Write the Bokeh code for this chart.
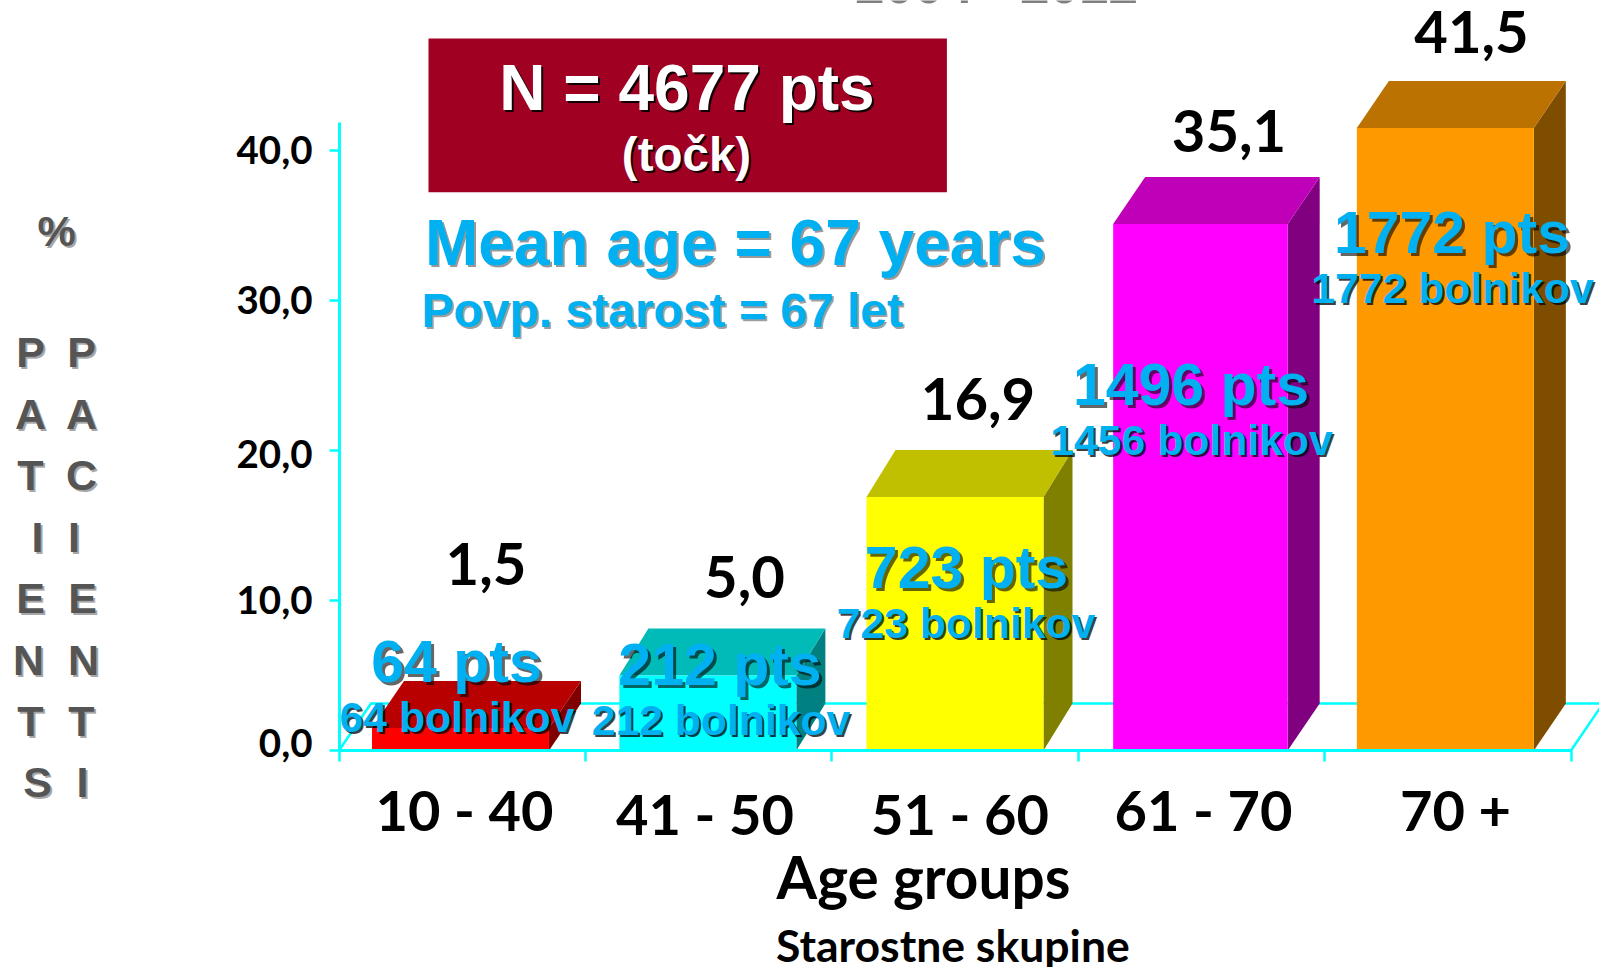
from bokeh.embed import file_html
from bokeh.resources import INLINE
from bokeh.plotting import figure
from bokeh.models import Label, FixedTicker, Range1d

categories = ["10 - 40", "41 - 50", "51 - 60", "61 - 70", "70 +"]
percent = [1.5, 5.0, 16.9, 35.1, 41.5]
pts_labels = ["64 pts", "212 pts", "723 pts", "1496 pts", "1772 pts"]
bolnikov_labels = ["64 bolnikov", "212 bolnikov", "723 bolnikov", "1456 bolnikov", "1772 bolnikov"]
y_ticks = [0, 10, 20, 30, 40]
front_colors = ["#FF0000", "#00FFFF", "#FFFF00", "#FF00FF", "#FF9900"]
top_colors = ["#B80000", "#00BBB8", "#C0C000", "#C000B8", "#BC7200"]
side_colors = ["#800000", "#008080", "#808000", "#800080", "#7F4D00"]
left_col = list("PATIENTS")
right_col = list("PACIENTI")

SANS = "Liberation Sans"
HUM = "Lato"
CYAN = "#00FFFF"
BLUE = "#00B0F0"

W, H = 1599, 967
X0, XS, Y0, YS = 338.5, 246.4, 750.0, 15.0
DX, DY = 32 / XS, 47 / YS

p = figure(width=W, height=H, output_backend="svg", toolbar_location=None,
           x_range=Range1d(-X0 / XS, (W - X0) / XS), y_range=Range1d((Y0 - H) / YS, Y0 / YS),
           min_border_left=0, min_border_right=0, min_border_top=0, min_border_bottom=0,
           background_fill_color="white", border_fill_color="white")
p.outline_line_color = None
p.grid.visible = False

yax = p.yaxis[0]
yax.fixed_location = 0
yax.ticker = FixedTicker(ticks=y_ticks)
yax.major_label_overrides = {t: "" for t in y_ticks}
yax.bounds = (0, 41.9)
yax.axis_line_color = CYAN
yax.axis_line_width = 3
yax.major_tick_line_color = CYAN
yax.major_tick_line_width = 2.5
yax.major_tick_out = 10
yax.major_tick_in = 0
yax.minor_tick_line_color = None

xax = p.xaxis[0]
xax.fixed_location = 0
edges = list(range(len(categories) + 1))
xax.ticker = FixedTicker(ticks=edges)
xax.major_label_overrides = {e: "" for e in edges}
xax.bounds = (0, len(categories))
xax.axis_line_color = CYAN
xax.axis_line_width = 3
xax.major_tick_line_color = CYAN
xax.major_tick_line_width = 2.5
xax.major_tick_out = 11
xax.major_tick_in = 0
xax.minor_tick_line_color = None

# floor
n = len(categories)
p.line([0, DX, n + DX], [0, DY, DY], line_color=CYAN, line_width=2.5)
p.line([n, n + DX], [0, DY], line_color=CYAN, line_width=2.5)

# 3-D bars: small per-bar drawing nudges as seen in the reference
nudge = [-0.007, -0.003, 0.0, -0.004, -0.01]
widths_px = [177, 177, 177, 174.5, 177]
depth_px = [32, 29, 29, 32, 32]
for i, (v, fc, tc, sc) in enumerate(zip(percent, front_colors, top_colors, side_colors)):
    c = i + 0.5 + nudge[i]
    bw = widths_px[i] / XS
    ddx = depth_px[i] / XS
    l, r = c - bw / 2, c + bw / 2
    p.patch([r, r + ddx, r + ddx, r], [0, DY, v + DY, v], color=sc, line_width=0)
    p.patch([l, l + ddx, r + ddx, r], [v, v + DY, v + DY, v], color=tc, line_width=0)
    p.vbar(x=[c], top=[v], bottom=0, width=bw, color=fc, line_width=0)


def dx(px):
    return (px - X0) / XS


def dy(py):
    return (Y0 - py) / YS


BASE_K = 0.345


def txt(s, x, y, size, color, font=SANS, align="left", shadow=None, off=2, alpha=0.55):
    y = y - BASE_K * size
    if shadow:
        p.add_layout(Label(x=dx(x + off), y=dy(y + off), text=s, text_font=font, text_font_style="bold",
                           text_font_size=f"{size}px", text_color=shadow, text_alpha=alpha,
                           text_align=align, text_baseline="alphabetic"))
    p.add_layout(Label(x=dx(x), y=dy(y), text=s, text_font=font, text_font_style="bold",
                       text_font_size=f"{size}px", text_color=color,
                       text_align=align, text_baseline="alphabetic"))


# clipped title at the very top of the picture
txt("2004 - 2012", 996, 2, 53, "#7F7F7F", align="center")

# y tick labels
tick_base = [756, 612.7, 466.7, 313, 162.7]
for t, y in zip(y_ticks, tick_base):
    txt(f"{t:.1f}".replace(".", ","), 312, y, 38.5, "black", font=HUM, align="right")

# info box
p.quad(left=dx(428), right=dx(946.4), top=dy(38), bottom=dy(191.7), color="#A00021", line_width=0)
txt("N = 4677 pts", 686.5, 110, 64, "white", align="center", shadow="black", off=2, alpha=0.9)
txt("(točk)", 686, 170, 47.5, "white", align="center", shadow="black", off=2, alpha=0.9)
txt("Mean age = 67 years", 424.5, 265, 64, BLUE, shadow="#000000", off=2, alpha=0.4)
txt("Povp. starost = 67 let", 421, 326.5, 48, BLUE, shadow="#000000", off=2, alpha=0.4)

# left vertical titles
txt("%", 56, 245, 43, "#555555", align="center", shadow="#000000", off=2, alpha=0.35)
base = [366.5, 428.5, 489.5, 551.5, 612.5, 674.5, 735.5, 796.5]
lx = [30, 30, 30, 37, 30, 28, 30, 37]
rx = [81, 81, 81, 73.5, 82, 83, 81, 82]
for ch, x, y in zip(left_col, lx, base):
    txt(ch, x, y, 43, "#555555", align="center", shadow="#000000", off=2, alpha=0.35)
for ch, x, y in zip(right_col, rx, base):
    txt(ch, x, y, 43, "#555555", align="center", shadow="#000000", off=2, alpha=0.35)

# value labels
val_xy = [(485.5, 584), (744, 597), (977.5, 419), (1228.5, 151), (1471, 52)]
for v, (x, y) in zip(percent, val_xy):
    txt(f"{v:.1f}".replace(".", ","), x, y, 58, "black", font=HUM, align="center")

# blue labels
pts_xy = [(456, 681.5), (719.5, 684.5), (966, 587.5), (1190.5, 404.5), (1451.5, 252.5)]
bol_xy = [(456.5, 731), (720.5, 734), (965.5, 637), (1191, 454), (1452, 302)]
for s, (x, y) in zip(pts_labels, pts_xy):
    txt(s, x, y, 59, BLUE, align="center", shadow="#000000", off=3, alpha=0.6)
for s, (x, y) in zip(bolnikov_labels, bol_xy):
    txt(s, x, y, 42.7, BLUE, align="center", shadow="#000000", off=2, alpha=0.75)

# category labels
cat_xy = [(464, 828), (704.5, 832), (959.5, 832), (1203, 828), (1455, 828)]
for s, (x, y) in zip(categories, cat_xy):
    txt(s, x, y, 56, "black", font=HUM, align="center")

txt("Age groups", 776, 896, 58.5, "black", font=HUM)
txt("Starostne skupine", 775.5, 959, 44.5, "black", font=HUM)

open("out.html", "w").write(file_html(p, INLINE))
